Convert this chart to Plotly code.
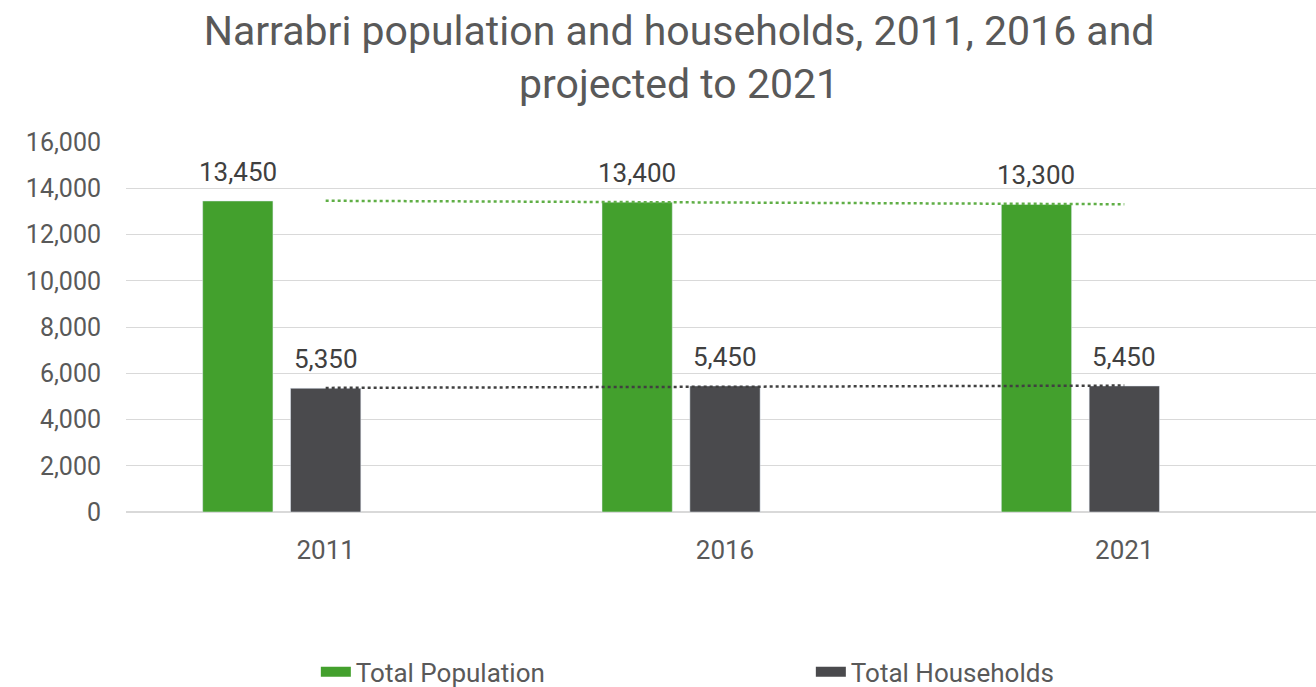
import numpy as np
import plotly.graph_objects as go

years = ["2011", "2016", "2021"]
population = [13450, 13400, 13300]
households = [5350, 5450, 5450]
y_ticks = [0, 2000, 4000, 6000, 8000, 10000, 12000, 14000, 16000]

GREEN = "#43a02d"
GREY = "#4a4a4d"
TEXT = "#595959"
FONT = "Roboto"

bar_w = 0.176
off_pop = -0.308
off_hh = -0.088

fig = go.Figure()
fig.add_trace(go.Bar(x=years, y=population, name="Total Population", marker_color=GREEN,
                     width=bar_w, offset=off_pop, showlegend=False))
fig.add_trace(go.Bar(x=years, y=households, name="Total Households", marker_color=GREY,
                     width=bar_w, offset=off_hh, showlegend=False))

# linear trendlines (as in the source spreadsheet chart)
idx = np.arange(len(years))
for vals, col in [(population, "#5fae45"), (households, "#404040")]:
    k, b = np.polyfit(idx, vals, 1)
    fig.add_trace(go.Scatter(x=years, y=k * idx + b, mode="lines", showlegend=False,
                             line=dict(color=col, width=2.5, dash="dot"), hoverinfo="skip"))

# legend entries with wide swatches
for name, col in [("Total Population", GREEN), ("Total Households", GREY)]:
    fig.add_trace(go.Scatter(x=[None], y=[None], mode="lines", name=name,
                             line=dict(color=col, width=12)))

for i in range(len(years)):
    for vals, off in [(population, off_pop), (households, off_hh)]:
        fig.add_annotation(x=i + off + bar_w / 2, y=vals[i], text=f"{vals[i]:,}",
                           showarrow=False, yanchor="bottom", yshift=12,
                           font=dict(family=FONT, size=26, color="#404040"))

fig.update_layout(
    width=1316, height=687,
    margin=dict(l=126, r=0, t=142, b=175),
    paper_bgcolor="white", plot_bgcolor="white",
    font=dict(family=FONT, color=TEXT),
    title=dict(text="Narrabri population and households, 2011, 2016 and<br>projected to 2021",
               x=0.516, xanchor="center", y=0.935, yanchor="top",
               font=dict(family=FONT, size=41, color=TEXT)),
    xaxis=dict(type="category", range=[-0.5, 2.48], showgrid=False, showline=False,
               ticks="", ticklabelstandoff=20, tickfont=dict(size=26, color=TEXT)),
    yaxis=dict(range=[0, 16000], tickvals=y_ticks, tickformat=",d", showgrid=True,
               gridcolor="#d9d9d9", gridwidth=1, zeroline=True, zerolinecolor="#d9d9d9",
               showline=False, ticks="", ticklen=0, ticklabelstandoff=24,
               tickfont=dict(size=25, color=TEXT)),
    legend=dict(orientation="h", xref="container", yref="container",
                x=0.24, y=0.022, xanchor="left", yanchor="middle",
                entrywidth=450, font=dict(family=FONT, size=26, color=TEXT),
                bgcolor="rgba(0,0,0,0)"),
    showlegend=True,
)

fig.write_html("out.html")
